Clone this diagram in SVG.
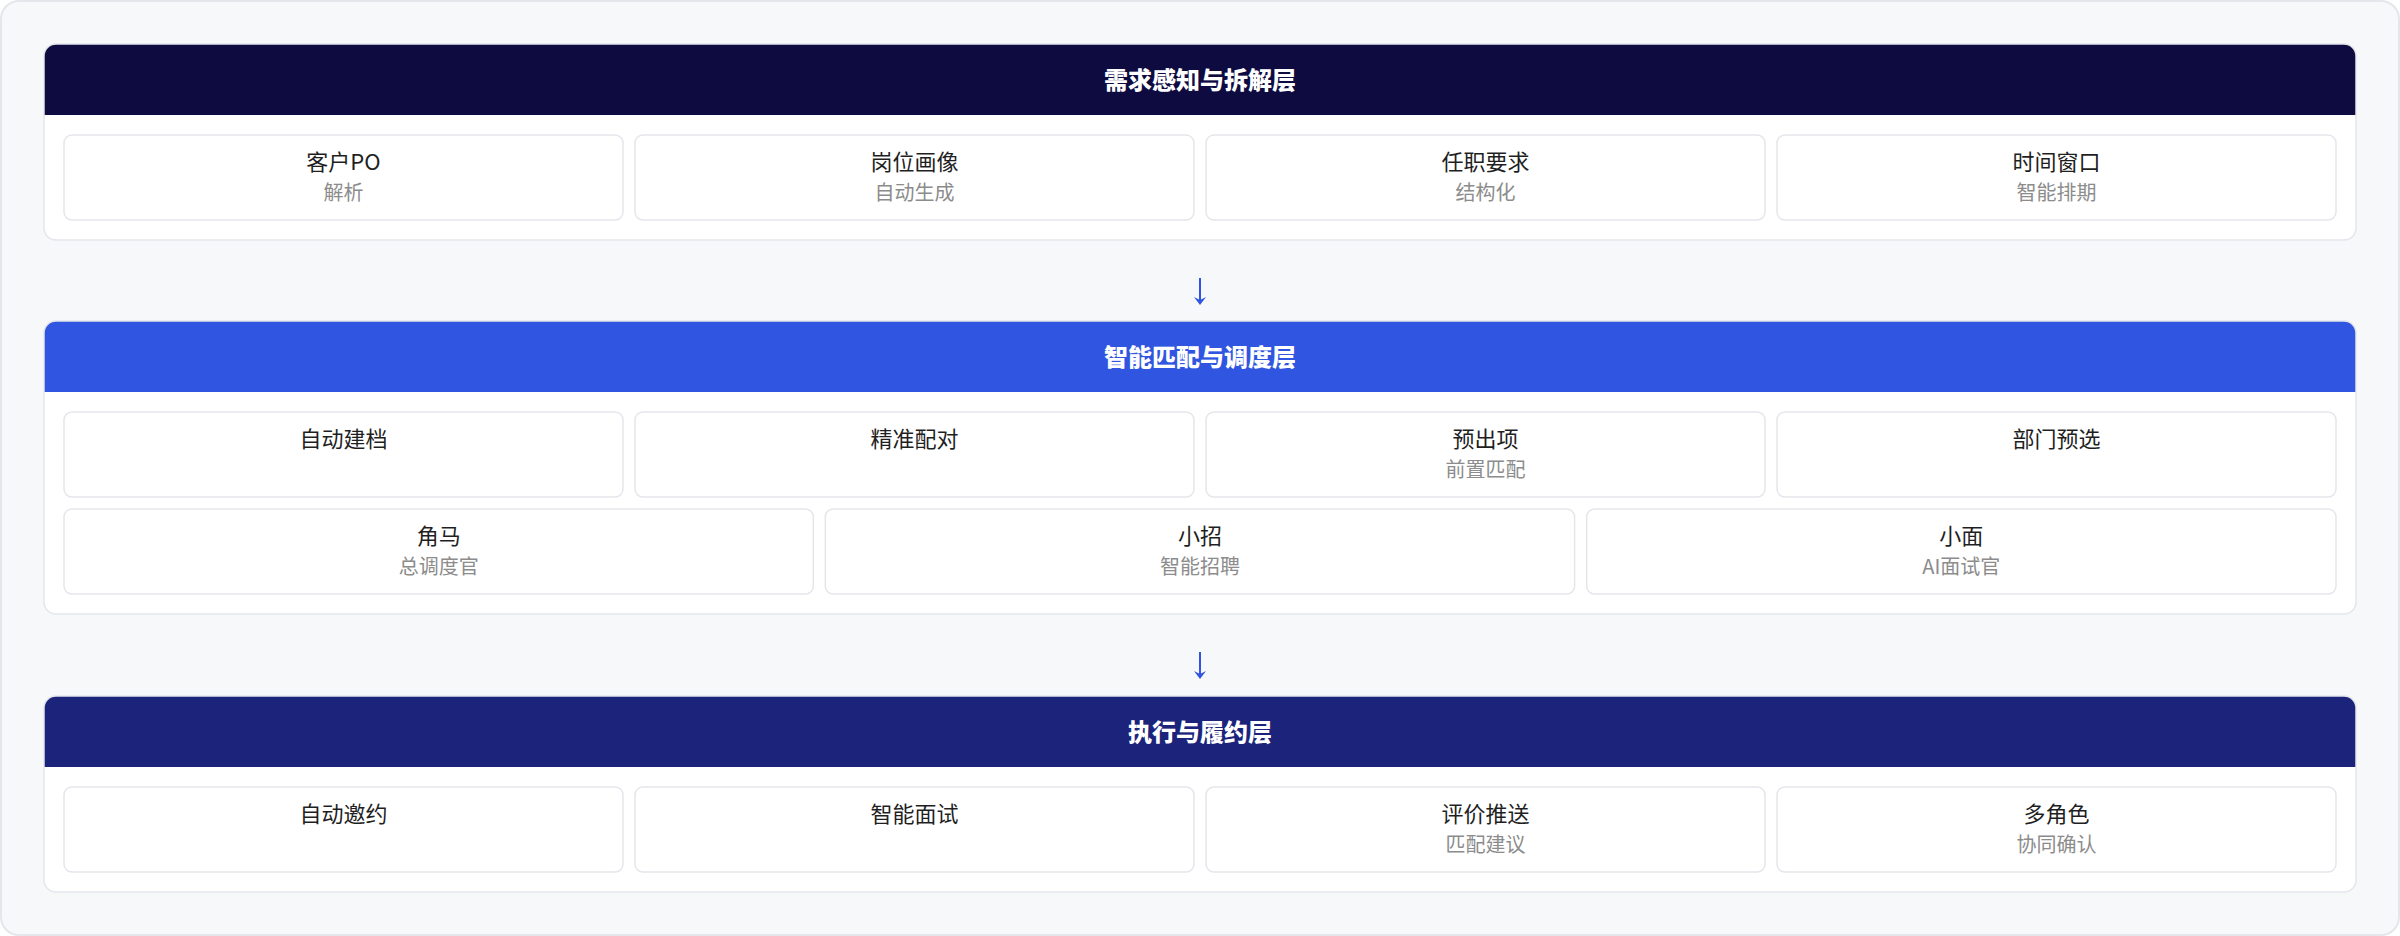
<svg xmlns="http://www.w3.org/2000/svg" width="2400" height="936" viewBox="0 0 2400 936">
<style>
.frame{fill:#f7f8fa;stroke:#e4e6eb;stroke-width:2}
.card{fill:#ffffff}
.cardline{fill:none;stroke:#e4e6eb;stroke-width:1.5}
.cell{fill:#ffffff;stroke:#e4e6eb;stroke-width:1.5}
.ht{font-family:"Noto Sans CJK SC","Noto Sans",sans-serif;font-size:24px;font-weight:900;fill:#ffffff;text-anchor:middle}
.mt{font-family:"Noto Sans CJK SC","Noto Sans",sans-serif;font-size:22px;fill:#1f1f1f;text-anchor:middle}
.st{font-family:"Noto Sans CJK SC","Noto Sans",sans-serif;font-size:20px;fill:#8c8c8c;text-anchor:middle}
.arr{stroke:#3055e0;stroke-width:2;fill:none}
.arrh{fill:#3055e0}
</style>
<rect class="frame" x="1" y="1" width="2398" height="934" rx="18"/>

<g id="layer1">
<rect class="card" x="44" y="44" width="2312" height="196" rx="12"/>
<path d="M44 115 V56 A12 12 0 0 1 56 44 H2344 A12 12 0 0 1 2356 56 V115 Z" fill="#0e0b40"/>
<rect class="cardline" x="44" y="44" width="2312" height="196" rx="12"/>
<text class="ht" x="1200" y="89">需求感知与拆解层</text>
</g>
<g id="n-kehu"><rect class="cell" x="64" y="135" width="559" height="85" rx="8"/><text class="mt" x="343.5" y="170">客户PO</text><text class="st" x="343.5" y="200">解析</text></g>
<g id="n-gangwei"><rect class="cell" x="635" y="135" width="559" height="85" rx="8"/><text class="mt" x="914.5" y="170">岗位画像</text><text class="st" x="914.5" y="200">自动生成</text></g>
<g id="n-renzhi"><rect class="cell" x="1206" y="135" width="559" height="85" rx="8"/><text class="mt" x="1485.5" y="170">任职要求</text><text class="st" x="1485.5" y="200">结构化</text></g>
<g id="n-shijian"><rect class="cell" x="1777" y="135" width="559" height="85" rx="8"/><text class="mt" x="2056.5" y="170">时间窗口</text><text class="st" x="2056.5" y="200">智能排期</text></g>

<g id="layer2">
<rect class="card" x="44" y="321" width="2312" height="293" rx="12"/>
<path d="M44 392 V333 A12 12 0 0 1 56 321 H2344 A12 12 0 0 1 2356 333 V392 Z" fill="#3055e0"/>
<rect class="cardline" x="44" y="321" width="2312" height="293" rx="12"/>
<text class="ht" x="1200" y="366">智能匹配与调度层</text>
</g>
<g id="n-jiandang"><rect class="cell" x="64" y="412" width="559" height="85" rx="8"/><text class="mt" x="343.5" y="447">自动建档</text></g>
<g id="n-peidui"><rect class="cell" x="635" y="412" width="559" height="85" rx="8"/><text class="mt" x="914.5" y="447">精准配对</text></g>
<g id="n-yuchu"><rect class="cell" x="1206" y="412" width="559" height="85" rx="8"/><text class="mt" x="1485.5" y="447">预出项</text><text class="st" x="1485.5" y="477">前置匹配</text></g>
<g id="n-bumen"><rect class="cell" x="1777" y="412" width="559" height="85" rx="8"/><text class="mt" x="2056.5" y="447">部门预选</text></g>
<g id="n-jiaoma"><rect class="cell" x="64" y="509" width="749.3" height="85" rx="8"/><text class="mt" x="438.7" y="544">角马</text><text class="st" x="438.7" y="574">总调度官</text></g>
<g id="n-xiaozhao"><rect class="cell" x="825.3" y="509" width="749.3" height="85" rx="8"/><text class="mt" x="1200" y="544">小招</text><text class="st" x="1200" y="574">智能招聘</text></g>
<g id="n-xiaomian"><rect class="cell" x="1586.7" y="509" width="749.3" height="85" rx="8"/><text class="mt" x="1961.3" y="544">小面</text><text class="st" x="1961.3" y="574">AI面试官</text></g>

<g id="layer3">
<rect class="card" x="44" y="696" width="2312" height="196" rx="12"/>
<path d="M44 767 V708 A12 12 0 0 1 56 696 H2344 A12 12 0 0 1 2356 708 V767 Z" fill="#1b237b"/>
<rect class="cardline" x="44" y="696" width="2312" height="196" rx="12"/>
<text class="ht" x="1200" y="741">执行与履约层</text>
</g>
<g id="n-yaoyue"><rect class="cell" x="64" y="787" width="559" height="85" rx="8"/><text class="mt" x="343.5" y="822">自动邀约</text></g>
<g id="n-mianshi"><rect class="cell" x="635" y="787" width="559" height="85" rx="8"/><text class="mt" x="914.5" y="822">智能面试</text></g>
<g id="n-pingjia"><rect class="cell" x="1206" y="787" width="559" height="85" rx="8"/><text class="mt" x="1485.5" y="822">评价推送</text><text class="st" x="1485.5" y="852">匹配建议</text></g>
<g id="n-duojiaose"><rect class="cell" x="1777" y="787" width="559" height="85" rx="8"/><text class="mt" x="2056.5" y="822">多角色</text><text class="st" x="2056.5" y="852">协同确认</text></g>

<g id="connectors">
<line class="arr" x1="1200" y1="278" x2="1200" y2="302"/>
<path class="arrh" d="M1194 297 L1200 305 L1206 297 L1200 300 Z"/>
<line class="arr" x1="1200" y1="652" x2="1200" y2="676"/>
<path class="arrh" d="M1194 671 L1200 679 L1206 671 L1200 674 Z"/>
</g>
</svg>
